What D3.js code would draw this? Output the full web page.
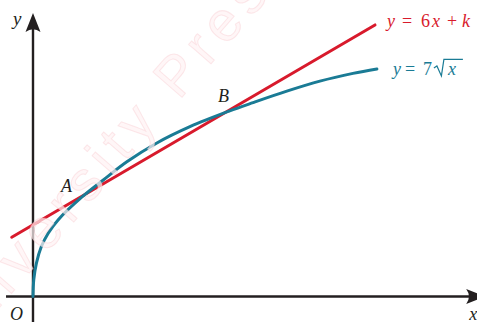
<!DOCTYPE html>
<html>
<head>
<meta charset="utf-8">
<script src="https://cdn.jsdelivr.net/npm/d3@7/dist/d3.min.js"></script>
<style>
  html, body { margin: 0; padding: 0; background: #ffffff; }
  svg { display: block; }
</style>
</head>
<body>
<script>
// ---- data (in chart units) ----
const curveX = [0, 0.002, 0.009, 0.022, 0.04, 0.066, 0.129, 0.185, 0.247, 0.326, 0.413, 0.516, 0.579, 0.668, 0.755, 0.842, 0.905];
const curveY = [0, 0.45, 0.90, 1.35, 1.71, 2.07, 2.69, 3.15, 3.64, 4.15, 4.59, 5.01, 5.24, 5.55, 5.82, 6.03, 6.15];
const lineX = [-0.056, 0.9];
const lineY = [1.60, 7.34];
const pointLabels = ["A", "B"];
const pointX = [0.129, 0.516];
const pointY = [2.69, 5.01];
const xAxisExtent = [-0.071, 1.19];
const yAxisExtent = [-0.7, 7.66];
const axisLabels = ["x", "y", "O"];
const watermarkText = "University Press";

// ---- layout ----
const W = 477, H = 322;
const RED = "#d81a2c", TEAL = "#1a7b95", INK = "#231f20";
const svg = d3.select("body").append("svg").attr("width", W).attr("height", H);

const x = d3.scaleLinear().domain([0, 1]).range([33, 413]);
const y = d3.scaleLinear().domain([0, 8]).range([296.5, 0.5]);

// axes
const ax = svg.append("g");
ax.append("line")
  .attr("x1", x(xAxisExtent[0])).attr("x2", x(xAxisExtent[1]) - 14)
  .attr("y1", y(0)).attr("y2", y(0))
  .attr("stroke", INK).attr("stroke-width", 2.4);
ax.append("line")
  .attr("x1", x(0)).attr("x2", x(0))
  .attr("y1", y(yAxisExtent[0])).attr("y2", y(yAxisExtent[1]) + 14)
  .attr("stroke", INK).attr("stroke-width", 2.4);
const arrowPath = "M0,0 L-7.5,19 Q0,13.5 7.5,19 Z";
ax.append("path").attr("d", arrowPath).attr("fill", INK)
  .attr("transform", `translate(${x(0)},${y(yAxisExtent[1])})`);
ax.append("path").attr("d", arrowPath).attr("fill", INK)
  .attr("transform", `translate(${x(xAxisExtent[1])},${y(0)}) rotate(90)`);

const serif = "Liberation Serif, DejaVu Serif, serif";
// axis labels
svg.append("text").text(axisLabels[1])
  .attr("x", x(0) - 20).attr("y", y(yAxisExtent[1]) + 12)
  .attr("font-family", serif).attr("font-style", "italic").attr("font-size", 19).attr("fill", INK);
svg.append("text").text(axisLabels[2])
  .attr("x", x(0) - 23).attr("y", y(0) + 23)
  .attr("font-family", serif).attr("font-style", "italic").attr("font-size", 18).attr("fill", INK);
svg.append("text").text(axisLabels[0])
  .attr("x", x(xAxisExtent[1]) - 16).attr("y", y(0) + 23)
  .attr("font-family", serif).attr("font-style", "italic").attr("font-size", 18).attr("fill", INK);

// straight line y = 6x + k
const lineData = lineX.map((d, i) => [d, lineY[i]]);
svg.append("path")
  .datum(lineData)
  .attr("d", d3.line().x(d => x(d[0])).y(d => y(d[1])))
  .attr("fill", "none").attr("stroke", RED).attr("stroke-width", 3)
  .attr("stroke-linecap", "round");

// curve y = 7 sqrt(x)
const curveData = curveX.map((d, i) => [d, curveY[i]]);
svg.append("path")
  .datum(curveData)
  .attr("d", d3.line().x(d => x(d[0])).y(d => y(d[1])).curve(d3.curveCatmullRom.alpha(0.5)))
  .attr("fill", "none").attr("stroke", TEAL).attr("stroke-width", 3)
  .attr("stroke-linecap", "round");

// intersection labels
const labOff = [[-21, -5], [-11, -9]];
pointLabels.forEach((lab, i) => {
  svg.append("text").text(lab)
    .attr("x", x(pointX[i]) + labOff[i][0]).attr("y", y(pointY[i]) + labOff[i][1])
    .attr("font-family", serif).attr("font-style", "italic").attr("font-size", 18).attr("fill", INK);
});

// equation label for the line
{
  const lx = x(lineX[1]) + 12, ly = y(lineY[1]) + 2;
  const t = svg.append("text").attr("y", ly).attr("font-family", serif)
    .attr("font-size", 18).attr("fill", RED);
  const parts = [["y", true, 0], ["=", false, 15], ["6", false, 34], ["x", true, 45], ["+", false, 60], ["k", true, 75]];
  parts.forEach(p => t.append("tspan").text(p[0]).attr("x", lx + p[2])
    .attr("font-style", p[1] ? "italic" : "normal"));
}
// equation label for the curve
{
  const n = curveX.length - 1;
  const lx = x(curveX[n]) + 16, ly = y(curveY[n]) + 6;
  const t = svg.append("text").attr("y", ly).attr("font-family", serif)
    .attr("font-size", 18).attr("fill", TEAL);
  const parts = [["y", true, 0], ["=", false, 12], ["7", false, 30], ["x", true, 55]];
  parts.forEach(p => t.append("tspan").text(p[0]).attr("x", lx + p[2])
    .attr("font-style", p[1] ? "italic" : "normal"));
  svg.append("path")
    .attr("d", `M${lx + 41},${ly - 7} L${lx + 44},${ly - 9} L${lx + 48.5},${ly + 1} L${lx + 51},${ly - 15.5} L${lx + 70},${ly - 15.5}`)
    .attr("fill", "none").attr("stroke", TEAL).attr("stroke-width", 1.2)
    .attr("stroke-linejoin", "miter");
}

// faint watermark on top
svg.append("text").text(watermarkText)
  .attr("transform", "translate(-48,362) rotate(-49)")
  .attr("font-family", "Liberation Sans, Arial, sans-serif")
  .attr("font-size", 56)
  .attr("textLength", 520).attr("lengthAdjust", "spacing")
  .attr("fill", "rgba(255,242,244,0.7)")
  .attr("stroke", "rgba(245,170,180,0.25)").attr("stroke-width", 1);
</script>
</body>
</html>
